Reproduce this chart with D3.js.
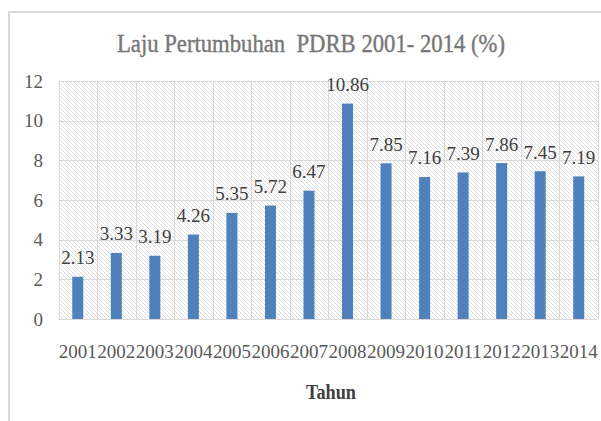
<!DOCTYPE html>
<html><head><meta charset="utf-8">
<script src="https://cdn.jsdelivr.net/npm/d3@7"></script>
<style>body{margin:0;background:#fff}svg{display:block}text{font-family:"Liberation Serif","Times New Roman",serif}</style>
</head><body><svg id="c" width="601" height="421"></svg>
<script>
const years = ["2001","2002","2003","2004","2005","2006","2007","2008","2009","2010","2011","2012","2013","2014"];
const growth = [2.13,3.33,3.19,4.26,5.35,5.72,6.47,10.86,7.85,7.16,7.39,7.86,7.45,7.19];
const yTicks = [0,2,4,6,8,10,12];
const titleText = "Laju Pertumbuhan  PDRB 2001- 2014 (%)";
const xTitle = "Tahun";

const svg = d3.select("#c");
const L = 58.5, R = 598, T = 81, B = 319;

// outer border
svg.append("rect").attr("x",9).attr("y",12).attr("width",620).attr("height",440)
  .attr("fill","none").attr("stroke","#d9d9d9").attr("stroke-width",2);

// hatch pattern
const defs = svg.append("defs");
const pat = defs.append("pattern").attr("id","hatch").attr("patternUnits","userSpaceOnUse")
  .attr("width",4).attr("height",4);
pat.append("rect").attr("width",4).attr("height",4).attr("fill","#ffffff");
pat.append("path").attr("d","M-1,-1 L5,5 M-1,3 L1,5 M3,-1 L5,1").attr("stroke","#e0e0e0").attr("stroke-width",1);

const x = d3.scaleBand().domain(years).range([L,R]).paddingInner(0).paddingOuter(0);
const y = d3.scaleLinear().domain([0,12]).range([B,T]);

svg.append("rect").attr("x",L).attr("y",T).attr("width",R-L).attr("height",B-T).attr("fill","url(#hatch)");

// gridlines
svg.append("g").selectAll("line").data(yTicks).join("line")
  .attr("x1",L).attr("x2",R).attr("y1",d=>Math.round(y(d))+0.5).attr("y2",d=>Math.round(y(d))+0.5)
  .attr("stroke","#d9d9d9").attr("stroke-width",1);
svg.append("g").selectAll("line").data(years.concat(["end"])).join("line")
  .attr("x1",(d,i)=>Math.round(L+i*x.bandwidth())+0.5).attr("x2",(d,i)=>Math.round(L+i*x.bandwidth())+0.5)
  .attr("y1",T).attr("y2",B).attr("stroke","#d9d9d9").attr("stroke-width",1);

// axis line
svg.append("line").attr("x1",L).attr("x2",R).attr("y1",B+0.5).attr("y2",B+0.5).attr("stroke","#d9d9d9");

// bars
const bw = 11;
svg.append("g").selectAll("rect").data(growth).join("rect")
  .attr("x",(d,i)=>x(years[i])+x.bandwidth()/2-bw/2)
  .attr("y",d=>y(d)).attr("width",bw).attr("height",d=>B-y(d))
  .attr("fill","#4f81bd");

// data labels
svg.append("g").selectAll("text").data(growth).join("text")
  .attr("x",(d,i)=>x(years[i])+x.bandwidth()/2)
  .attr("y",d=>y(d)-12.5)
  .attr("text-anchor","middle").attr("font-size",19).attr("fill","#404040")
  .text(d=>d.toFixed(2));

// y axis labels
svg.append("g").selectAll("text").data(yTicks).join("text")
  .attr("x",43).attr("y",d=>y(d)+6.5).attr("text-anchor","end")
  .attr("font-size",19).attr("fill","#595959").text(d=>d);

// x axis labels
svg.append("g").selectAll("text").data(years).join("text")
  .attr("x",d=>x(d)+x.bandwidth()/2).attr("y",358)
  .attr("text-anchor","middle").attr("font-size",19).attr("fill","#595959").text(d=>d);

// titles
svg.append("text").attr("x",117).attr("y",52).attr("font-size",25).attr("fill","#777777")
  .attr("stroke","#777777").attr("stroke-width",0.4)
  .attr("textLength",388).attr("lengthAdjust","spacingAndGlyphs").style("white-space","pre").text(titleText);
svg.append("text").attr("x",331).attr("y",399).attr("text-anchor","middle")
  .attr("font-size",20).attr("font-weight","bold").attr("fill","#404040")
  .attr("textLength",50).attr("lengthAdjust","spacingAndGlyphs").text(xTitle);
</script></body></html>
